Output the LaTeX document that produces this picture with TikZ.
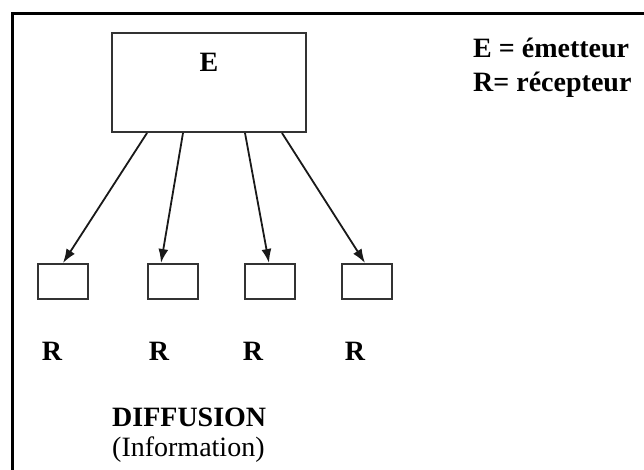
\documentclass[tikz,border=0pt]{standalone}
\usepackage{fontspec}
\setmainfont{Liberation Serif}
\usetikzlibrary{arrows.meta}
\begin{document}
\begin{tikzpicture}[x=1pt,y=-1pt,
  box/.style={draw=black!80,line width=2pt,inner sep=0pt},
  recv/.style={box,minimum width=50pt,minimum height=35pt},
  txt/.style={inner sep=0pt,font=\fontsize{28}{33}\selectfont\bfseries,text=black},
  rtxt/.style={inner sep=0pt,font=\fontsize{28}{33}\selectfont,text=black},
  arr/.style={line width=1.8pt,draw=black!90,-{Latex[length=14pt,width=10pt]}}]
\useasboundingbox (0,0) rectangle (644,469);
\fill[white] (0,0) rectangle (644,469);
% outer frame (left and top)
\draw[line width=3pt] (12,470) -- (12,13) -- (645,13);
% emitter
\node[box,minimum width=194pt,minimum height=99pt] (E) at (209,82.5) {};
\node[txt,anchor=base] (Elab) at (209,71) {E};
% receivers
\node[recv] (r1) at (63,281.5) {};
\node[recv] (r2) at (172.5,281.5) {};
\node[recv] (r3) at (270,281.5) {};
\node[recv] (r4) at (367,281.5) {};
% arrows
\draw[arr] ([xshift=36pt]E.south west) -- ([xshift=0pt]r1.north);
\draw[arr] ([xshift=72pt]E.south west) -- ([xshift=-11.5pt]r2.north);
\draw[arr] ([xshift=134pt]E.south west) -- ([xshift=-1pt]r3.north);
\draw[arr] ([xshift=171pt]E.south west) -- ([xshift=-2pt]r4.north);
% R labels
\node[txt,anchor=base] (R1) at (52,360) {R};
\node[txt,anchor=base] (R2) at (159,360) {R};
\node[txt,anchor=base] (R3) at (253,360) {R};
\node[txt,anchor=base] (R4) at (355,360) {R};
% title
\node[txt,anchor=base west] (diff) at (112,426) {DIFFUSION};
\node[rtxt,anchor=base west] (info) at (112,456) {(Information)};
% legend
\node[txt,anchor=base west] (leg1) at (473,57) {E = émetteur};
\node[txt,anchor=base west] (leg2) at (473,91) {R= récepteur};
\end{tikzpicture}
\end{document}
